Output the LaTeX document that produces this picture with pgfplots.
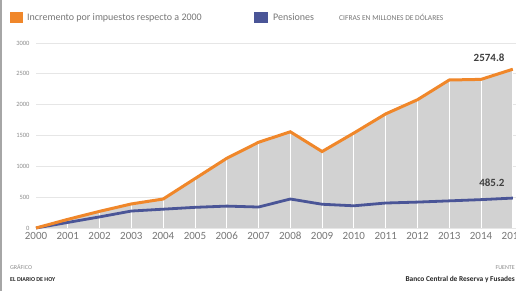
\documentclass[border=0pt]{standalone}
\usepackage{fontspec}
\setmainfont{Carlito}
\usepackage{pgfplots}
\usepackage{pgfplotstable}
\pgfplotsset{compat=1.18}
\definecolor{orangeL}{HTML}{F0872A}
\definecolor{blueL}{HTML}{4A5597}
\definecolor{fillG}{HTML}{D2D2D2}
\definecolor{gridG}{HTML}{E6E6E6}
\definecolor{tickG}{HTML}{8C8C8C}
\definecolor{textG}{HTML}{777777}
\pgfplotstableread{
year inc pen
2000 0 0
2001 140 90
2002 270 180
2003 390 275
2004 470 305
2005 800 335
2006 1130 355
2007 1390 340
2008 1560 470
2009 1240 385
2010 1540 360
2011 1850 405
2012 2080 420
2013 2400 440
2014 2410 460
2015 2574.8 485.2
}\datatable
\begin{document}
\begin{tikzpicture}[x=1pt,y=1pt]
\useasboundingbox (0,0) rectangle (516,291);
\fill[white] (0,0) rectangle (516,291);
\draw[black!35, line width=1.5pt] (0.75,0) -- (0.75,291);
\begin{axis}[
  at={(36pt,63pt)}, anchor=south west,
  scale only axis, width=480pt, height=185pt,
  xmin=2000, xmax=2015.1, ymin=0, ymax=3000,
  clip=false,
  axis line style={draw=none}, tick style={draw=none},
  xtick={2000,2001,...,2015}, ytick={0,500,...,3000},
  /pgf/number format/1000 sep={},
  /pgf/number format/assume math mode=true,
  xticklabel style={font=\fontsize{11}{12}\selectfont, text=textG, anchor=base, yshift=-12pt},
  yticklabel style={font=\fontsize{6.5}{7}\selectfont, text=tickG, xshift=-3pt},
  ymajorgrids, grid style={gridG, line width=0.8pt},
]
\addplot[fill=fillG, draw=none] table[x=year,y=inc]{\datatable} \closedcycle;
\addplot[ycomb, white, line width=0.8pt, mark=none] table[x=year,y=inc]{\datatable};
\addplot[blueL, line width=2.8pt, mark=none] table[x=year,y=pen]{\datatable};
\addplot[orangeL, line width=3pt, mark=none] table[x=year,y=inc]{\datatable};
\node[anchor=south east, font=\bfseries\fontsize{11}{12}\selectfont, text=black!75] at (axis cs:2014.85,2640) {2574.8};
\node[anchor=south east, font=\bfseries\fontsize{11}{12}\selectfont, text=black!75] at (axis cs:2014.85,615) {485.2};
\end{axis}
\fill[orangeL] (10,268) rectangle (23,279);
\node[anchor=west, inner sep=0, font=\fontsize{10}{11}\selectfont, text=textG] at (27,273.5) {Incremento por impuestos respecto a 2000};
\fill[blueL] (254,268) rectangle (268,279);
\node[anchor=west, inner sep=0, font=\fontsize{10}{11}\selectfont, text=textG] at (273,273.5) {Pensiones};
\node[anchor=west, inner sep=0, font=\fontsize{7.5}{8}\selectfont, text=textG] at (339,273.5) {CIFRAS EN MILLONES DE DÓLARES};
\node[anchor=west, inner sep=0, font=\fontsize{6}{7}\selectfont, text=black!45] at (10,24) {GRÁFICO};
\node[anchor=west, inner sep=0, font=\bfseries\fontsize{6}{7}\selectfont, text=black!85] at (10,11) {EL DIARIO DE HOY};
\node[anchor=east, inner sep=0, font=\fontsize{6}{7}\selectfont, text=black!45] at (515,23) {FUENTE};
\node[anchor=east, inner sep=0, font=\bfseries\fontsize{7.4}{8}\selectfont, text=black!85] at (515,12) {Banco Central de Reserva y Fusades};
\end{tikzpicture}
\end{document}
